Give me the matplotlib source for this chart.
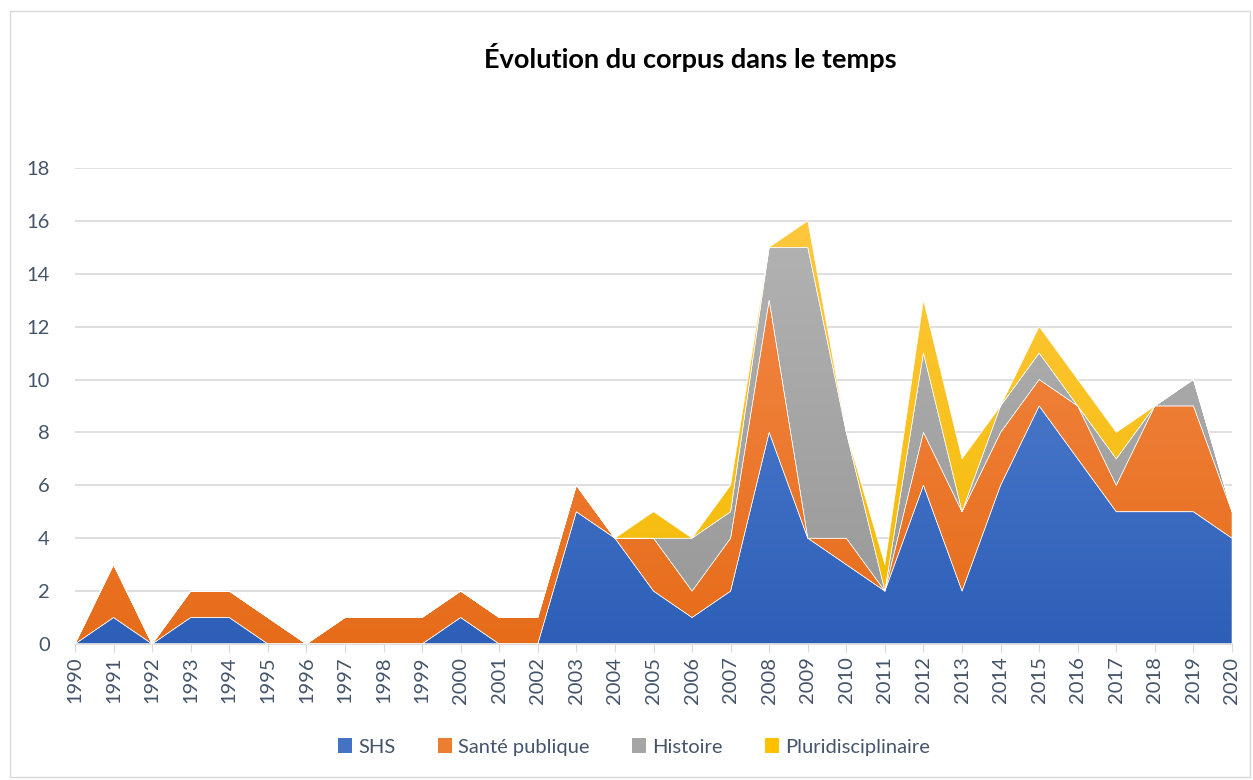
import matplotlib
matplotlib.use("Agg")
import matplotlib.pyplot as plt
import numpy as np
from matplotlib.colors import LinearSegmentedColormap
from matplotlib.patches import Rectangle, Patch

years = list(range(1990, 2021))
shs = [0, 1, 0, 1, 1, 0, 0, 0, 0, 0, 1, 0, 0, 5, 4, 2, 1, 2, 8, 4, 3, 2, 6, 2, 6, 9, 7, 5, 5, 5, 4]
sante = [0, 2, 0, 1, 1, 1, 0, 1, 1, 1, 1, 1, 1, 1, 0, 2, 1, 2, 5, 0, 1, 0, 2, 3, 2, 1, 2, 1, 4, 4, 1]
histoire = [0, 0, 0, 0, 0, 0, 0, 0, 0, 0, 0, 0, 0, 0, 0, 0, 2, 1, 2, 11, 4, 0, 3, 0, 1, 1, 0, 1, 0, 1, 0]
pluri = [0, 0, 0, 0, 0, 0, 0, 0, 0, 0, 0, 0, 0, 0, 0, 1, 0, 1, 0, 1, 0, 1, 2, 2, 0, 1, 1, 1, 0, 0, 0]
series_names = ["SHS", "Santé publique", "Histoire", "Pluridisciplinaire"]

# top / bottom colours of each gradient fill
gradients = [("#5a86d4", "#2d5fb8"),
             ("#f48a4a", "#e66c19"),
             ("#b3b3b3", "#979797"),
             ("#ffc73d", "#f2bb00")]
legend_colors = ["#4472c4", "#ed7d31", "#a5a5a5", "#ffc000"]
text_color = "#44546a"

plt.rcParams['font.family'] = ['Lato', 'DejaVu Sans']

fig = plt.figure(figsize=(12.53, 7.80), dpi=100)
ax = fig.add_axes([75 / 1253, 1 - 644 / 780, (1232 - 75) / 1253, (644 - 168) / 780])

polys = ax.stackplot(years, shs, sante, histoire, pluri, colors=legend_colors,
                     edgecolor="#ffffff", linewidth=0.4, zorder=2)

for poly, (c_top, c_bot) in zip(polys, gradients):
    cmap = LinearSegmentedColormap.from_list("g", [c_bot, c_top])
    grad = np.linspace(0, 1, 256).reshape(-1, 1)
    im = ax.imshow(grad, extent=[1990, 2020, 0, 16], aspect="auto", cmap=cmap,
                   origin="lower", zorder=2, interpolation="bilinear")
    im.set_clip_path(poly.get_paths()[0], transform=ax.transData)
    poly.set_facecolor("none")
    poly.set_zorder(3)

ax.set_xlim(1990, 2020)
ax.set_ylim(0, 18)
ax.set_yticks(range(0, 19, 2))
ax.set_xticks(years)
ax.set_xticklabels([str(y) for y in years], rotation=90)
ax.grid(axis="y", color="#d9d9d9", linewidth=1.2, zorder=0)
ax.set_axisbelow(True)
for s in ["top", "right", "left"]:
    ax.spines[s].set_visible(False)
ax.spines["bottom"].set_color("#d9d9d9")
ax.spines["bottom"].set_linewidth(1.2)
ax.tick_params(axis="y", length=0, labelsize=14.5, labelcolor=text_color, pad=18)
ax.tick_params(axis="x", length=6, color="#d9d9d9", labelsize=14.5, labelcolor=text_color, pad=3)

fig.text(690 / 1253, 1 - 58 / 780, "Évolution du corpus dans le temps", ha="center", va="center",
         fontsize=19.5, fontweight="bold", color="#000000")

handles = [Patch(facecolor=c, edgecolor="none") for c in legend_colors]
fig.legend(handles, series_names, loc="center", bbox_to_anchor=(634 / 1253, 1 - 747 / 780), ncol=4,
           frameon=False, fontsize=14.5, labelcolor=text_color, handlelength=0.7, handleheight=0.7,
           handletextpad=0.3, columnspacing=2.1)

fig.add_artist(Rectangle((0.008, 0.004), 0.99, 0.982, transform=fig.transFigure, fill=False,
                         edgecolor="#d9d9d9", linewidth=1))

fig.savefig("out.png", dpi=100, facecolor="white")
